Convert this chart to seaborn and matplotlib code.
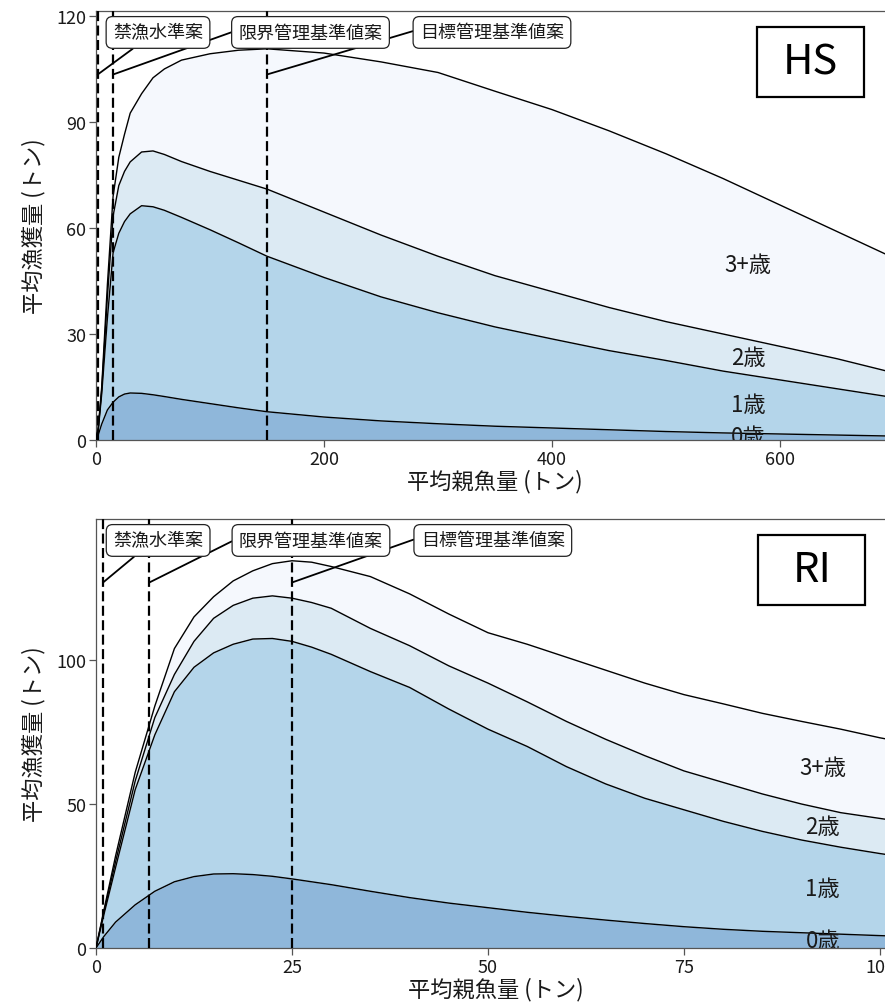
import numpy as np
import pandas as pd
import matplotlib
matplotlib.use("Agg")
import matplotlib.pyplot as plt
import seaborn as sns
from matplotlib.patches import Rectangle

# ---------------- data ----------------
ages = ["0歳", "1歳", "2歳", "3+歳"]
fill_colors = ["#8fb7da", "#b4d5ea", "#dceaf3", "#f5f8fd"]
ref_labels = ["禁漁水準案", "限界管理基準値案", "目標管理基準値案"]

# HS panel: mean SSB (t) and mean catch by age (t)
hs_ssb = [0, 2, 5, 10, 15, 20, 25, 30, 40, 50, 60, 75, 100, 125, 150, 200,
          250, 300, 350, 400, 450, 500, 550, 600, 650, 700]
hs_age0 = [0, 1.5, 4.5, 8.5, 10.7, 12.2, 13.0, 13.3, 13.2, 12.8, 12.3, 11.5, 10.3,
           9.1, 8.0, 6.5, 5.4, 4.6, 3.9, 3.4, 2.9, 2.4, 2.0, 1.7, 1.4, 1.1]
hs_age1 = [0, 1.5, 8.5, 26.0, 42.3, 46.3, 48.8, 50.7, 53.1, 53.2, 52.7, 51.5, 49.2,
           46.7, 44.0, 39.5, 35.1, 31.4, 28.1, 25.2, 22.4, 20.1, 17.5, 15.3, 13.1, 10.9]
hs_age2 = [0, 0.3, 1.0, 6.0, 10.4, 13.5, 14.2, 14.7, 15.2, 15.8, 15.8, 15.8, 16.5,
           17.7, 19.0, 18.5, 17.5, 16.0, 14.5, 13.4, 12.2, 11.0, 10.5, 9.5, 8.5, 7.0]
hs_age3 = [0, 0.2, 1.0, 3.5, 5.6, 8.0, 10.5, 13.8, 16.5, 20.7, 24.2, 28.7, 33.3,
           36.8, 39.7, 45.0, 49.0, 52.0, 52.2, 51.5, 50.0, 47.5, 44.0, 40.0, 36.0, 32.5]
hs_refs = [1.5, 15, 150]

# RI panel
ri_ssb = [0, 1, 2.5, 5, 7.5, 10, 12.5, 15, 17.5, 20, 22.5, 25, 27.5, 30, 35, 40,
          45, 50, 55, 60, 65, 70, 75, 80, 85, 90, 95, 100, 102]
ri_age0 = [0, 4.0, 9.0, 15.0, 19.7, 23.0, 24.8, 25.7, 25.8, 25.5, 24.9, 24.0, 23.0,
           22.0, 19.7, 17.5, 15.6, 14.0, 12.4, 11.0, 9.7, 8.5, 7.4, 6.5, 5.8, 5.3,
           4.8, 4.3, 4.1]
ri_age1 = [0, 7.5, 19.0, 40.0, 54.3, 66.0, 72.7, 76.8, 79.7, 81.8, 82.6, 82.5, 81.5,
           80.0, 76.3, 73.0, 67.4, 62.0, 57.6, 52.0, 47.3, 43.5, 40.6, 37.5, 34.7,
           32.2, 30.2, 28.5, 27.9]
ri_age2 = [0, 1.0, 2.0, 3.0, 6.0, 6.0, 9.0, 12.0, 13.5, 14.2, 14.8, 15.0, 15.5,
           16.0, 15.0, 14.5, 15.0, 16.0, 15.5, 15.7, 15.5, 14.8, 13.5, 13.5, 13.0,
           12.5, 12.0, 12.2, 12.2]
ri_age3 = [0, 0.5, 2.0, 3.0, 4.0, 9.0, 8.5, 7.5, 8.5, 9.5, 11.2, 13.0, 14.0, 14.5,
           18.0, 18.0, 18.0, 17.5, 20.0, 22.3, 24.0, 25.2, 26.5, 27.3, 28.0, 28.7,
           29.0, 28.0, 27.8]
ri_refs = [0.9, 6.8, 25.0]

# ---------------- style ----------------
sns.set_theme(style="ticks")
plt.rcParams["font.family"] = ["Noto Sans CJK JP", "DejaVu Sans"]
plt.rcParams["axes.unicode_minus"] = False

W, H = 885, 1004
fig = plt.figure(figsize=(W / 100, H / 100), dpi=100)


def px_axes(left, top, bottom, width):
    return fig.add_axes([left / W, (H - bottom) / H, width / W, (bottom - top) / H])


def panel(ax, ssb, series, refs, xmax, ymax, xticks, yticks, tag, label_x):
    ssb = np.asarray(ssb, dtype=float)
    cum = np.cumsum(np.vstack(series), axis=0)
    lower = np.zeros_like(cum[0])
    for i, col in enumerate(fill_colors):
        ax.fill_between(ssb, lower, cum[i], color=col, lw=0, zorder=1)
        lower = cum[i]
    df = pd.DataFrame({
        "ssb": np.tile(ssb, len(ages)),
        "catch": cum.ravel(),
        "age": np.repeat(ages, len(ssb)),
    })
    sns.lineplot(data=df, x="ssb", y="catch", units="age", estimator=None,
                 color="black", lw=1.0, ax=ax, zorder=3, sort=False, legend=False)

    # age labels at band mid-points
    prev = 0.0
    for i, age in enumerate(ages):
        top = np.interp(label_x, ssb, cum[i])
        ax.text(label_x, (prev + top) / 2, age, ha="center", va="center",
                fontsize=16, color="#1a1a1a", zorder=4, clip_on=True)
        prev = top

    for xr in refs:
        ax.axvline(xr, color="black", lw=1.6, dashes=(4.5, 2), zorder=4)

    box_x = [0.0777, 0.2688, 0.4962]
    relpos = [(0.33, 0.0), (0.0, 0.65), (0.0, 0.69)]
    for xr, lab, bx, rp in reversed(list(zip(refs, ref_labels, box_x, relpos))):
        ax.annotate(lab, xy=(xr, 0.852 * ymax), xycoords="data",
                    xytext=(bx, 0.950), textcoords="axes fraction",
                    ha="center", va="center", fontsize=13, color="#1a1a1a",
                    bbox=dict(boxstyle="round,pad=0.38,rounding_size=0.35",
                              fc="white", ec="#222222", lw=0.9),
                    arrowprops=dict(arrowstyle="-", color="black", lw=1.3,
                                    shrinkA=0, shrinkB=0, relpos=rp),
                    zorder=5)

    ax.add_patch(Rectangle((0.828, 0.80), 0.134, 0.163, transform=ax.transAxes,
                           fc="white", ec="black", lw=1.6, zorder=6))
    ax.text(0.895, 0.8815, tag, transform=ax.transAxes, ha="center", va="center",
            fontsize=30, color="black", zorder=7)

    ax.set_xlim(0, xmax)
    ax.set_ylim(0, ymax)
    ax.set_xticks(xticks)
    ax.set_yticks(yticks)
    ax.set_xlabel("平均親魚量 (トン)", fontsize=16, labelpad=1, color="#1a1a1a")
    ax.set_ylabel("平均漁獲量 (トン)", fontsize=16, labelpad=8, color="#1a1a1a")
    ax.tick_params(length=5, width=0.9, color="#555555", labelsize=13, pad=2,
                   labelcolor="#1a1a1a")
    for s in ["left", "bottom", "top"]:
        ax.spines[s].set_color("#555555")
        ax.spines[s].set_linewidth(0.9)
    ax.spines["right"].set_visible(False)
    ax.set_facecolor("white")


ax1 = px_axes(96, 12, 441, 700 * 1.14)
panel(ax1, hs_ssb, [hs_age0, hs_age1, hs_age2, hs_age3], hs_refs,
      700, 121.4, [0, 200, 400, 600], [0, 30, 60, 90, 120], "HS", 572)

ax2 = px_axes(96, 520, 949, 102 * 7.84)
panel(ax2, ri_ssb, [ri_age0, ri_age1, ri_age2, ri_age3], ri_refs,
      102, 149, [0, 25, 50, 75, 100], [0, 50, 100], "RI", 92.7)

fig.savefig("out.png", dpi=100)
